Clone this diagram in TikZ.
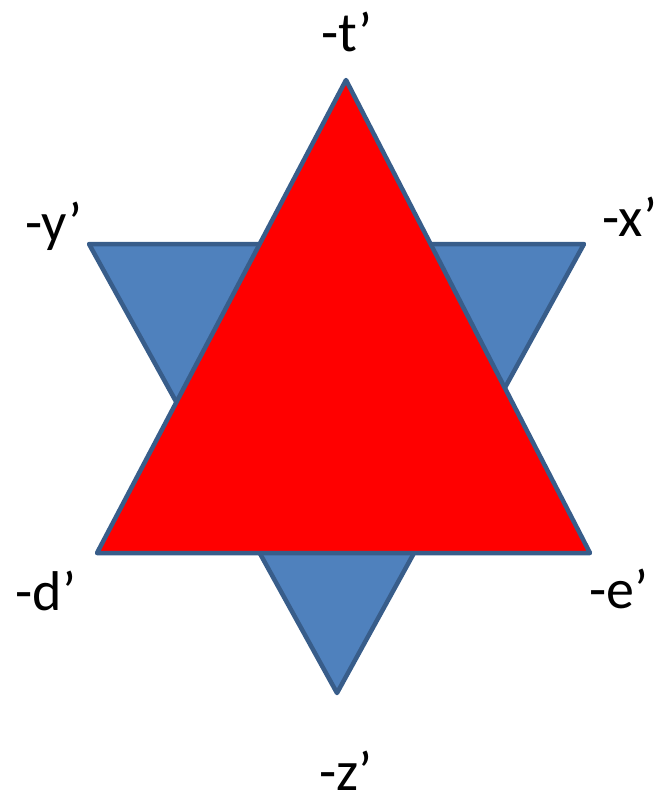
\documentclass[tikz,border=0pt]{standalone}
\usepackage{fontspec}
\setmainfont{Carlito}
\begin{document}
\begin{tikzpicture}[x=1pt,y=-1pt,
  tri/.style={draw={rgb,255:red,56;green,93;blue,138},line width=4.5pt,line join=round},
  lbl/.style={font=\fontsize{56}{60}\selectfont,anchor=base,inner sep=0pt}]
\useasboundingbox (0,0) rectangle (666,803);
\coordinate (y) at (89,244);
\coordinate (x) at (584,244);
\coordinate (z) at (337,693);
\coordinate (t) at (346,80);
\coordinate (d) at (97,553);
\coordinate (e) at (590,553);
\draw[tri,fill={rgb,255:red,79;green,129;blue,189}] (y) -- (x) -- (z) -- cycle;
\draw[tri,fill=red] (t) -- (d) -- (e) -- cycle;
\node[lbl] (lt) at (347,51) {-t’};
\node[lbl] (ly) at (54,241) {-y’};
\node[lbl] (lx) at (630,236) {-x’};
\node[lbl] (ld) at (46,610) {-d’};
\node[lbl] (le) at (619,608) {-e’};
\node[lbl] (lz) at (346,790) {-z’};
\end{tikzpicture}
\end{document}
